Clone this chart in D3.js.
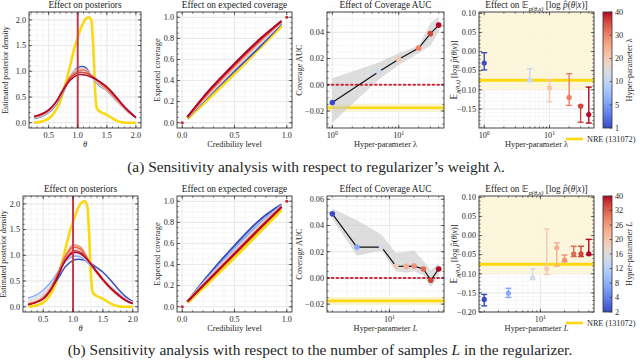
<!DOCTYPE html>
<html><head><meta charset="utf-8">
<script src="https://cdn.jsdelivr.net/npm/d3@7"></script>
<style>
body{margin:0;background:#fff}
svg{display:block}
text{font-family:"Liberation Serif","DejaVu Serif",serif;fill:#262626}
</style>
</head><body><svg id="c" width="640" height="361"></svg>
<script>
// ---------------- DATA ----------------
const lambdas = [1, 5, 10, 20, 30, 40];
const Ls = [2, 4, 8, 12, 16, 20, 26, 32, 40];
const lamCbTicks = [1, 5, 10, 20, 30, 40];
const LCbTicks = [2, 4, 8, 12, 16, 20, 26, 32, 40];

const thetaGrid = [0.25,0.375,0.5,0.625,0.75,0.875,1.0,1.125,1.25,1.375,1.5,1.625,1.75,1.875,2.0];
const postLam = [
  [0.08,0.12,0.20,0.35,0.60,0.90,1.07,1.08,0.88,0.72,0.62,0.48,0.33,0.20,0.10],
  [0.09,0.13,0.21,0.37,0.62,0.90,1.05,1.05,0.88,0.73,0.62,0.48,0.33,0.20,0.10],
  [0.10,0.14,0.22,0.38,0.63,0.90,1.03,1.03,0.90,0.75,0.63,0.49,0.34,0.21,0.10],
  [0.11,0.15,0.23,0.40,0.66,0.90,1.00,1.02,0.90,0.77,0.65,0.50,0.35,0.21,0.10],
  [0.12,0.16,0.24,0.40,0.65,0.87,0.97,0.97,0.90,0.80,0.68,0.53,0.37,0.22,0.10],
  [0.12,0.17,0.25,0.40,0.63,0.83,0.93,0.93,0.88,0.80,0.70,0.55,0.38,0.23,0.10]
];
const postL = [
  [0.05,0.10,0.20,0.35,0.55,0.78,0.90,0.92,0.88,0.78,0.67,0.52,0.35,0.20,0.10],
  [0.17,0.22,0.32,0.47,0.68,0.88,0.98,0.97,0.85,0.70,0.55,0.40,0.27,0.15,0.08],
  [0.12,0.17,0.26,0.42,0.65,0.90,1.02,1.02,0.88,0.72,0.56,0.40,0.26,0.15,0.08],
  [0.08,0.12,0.20,0.38,0.65,0.95,1.10,1.10,0.92,0.72,0.55,0.38,0.25,0.14,0.07],
  [0.06,0.10,0.18,0.36,0.66,1.00,1.18,1.15,0.93,0.70,0.52,0.36,0.23,0.13,0.07],
  [0.05,0.09,0.17,0.35,0.66,1.00,1.20,1.16,0.92,0.70,0.51,0.35,0.22,0.12,0.06],
  [0.05,0.09,0.17,0.35,0.65,0.98,1.15,1.12,0.92,0.70,0.52,0.36,0.23,0.13,0.06],
  [0.05,0.08,0.16,0.33,0.62,0.92,1.08,1.06,0.90,0.70,0.52,0.37,0.24,0.13,0.06],
  [0.04,0.08,0.15,0.32,0.60,0.90,1.05,1.03,0.90,0.72,0.53,0.37,0.24,0.13,0.06]
];
const nreTheta   = [0.25,0.4,0.5,0.6,0.7,0.8,0.9,0.95,1.0,1.05,1.1,1.15,1.2,1.24,1.27,1.3,1.33,1.38,1.45,1.55,1.65,1.75,1.85,2.0];
const nreDensity = [0.0,0.03,0.08,0.2,0.42,0.8,1.25,1.48,1.65,1.82,1.95,2.03,2.05,1.95,1.4,0.6,0.28,0.22,0.18,0.12,0.05,0.01,0.0,0.0];
const trueTheta = 1.0;

const credLevels = [0.05, 0.25, 0.5, 0.75, 0.95];
const covNRE = [0.04, 0.23, 0.47, 0.72, 0.92];
const covLam = [
  [0.045,0.25,0.49,0.73,0.94],
  [0.05,0.26,0.51,0.75,0.95],
  [0.05,0.27,0.52,0.77,0.955],
  [0.05,0.28,0.54,0.78,0.96],
  [0.055,0.29,0.55,0.79,0.965],
  [0.055,0.30,0.56,0.80,0.965]
];
const covL = [
  [0.05,0.30,0.58,0.83,0.97],
  [0.05,0.28,0.55,0.80,0.96],
  [0.05,0.27,0.53,0.78,0.955],
  [0.05,0.26,0.52,0.77,0.95],
  [0.05,0.26,0.51,0.76,0.95],
  [0.05,0.255,0.51,0.76,0.95],
  [0.05,0.255,0.505,0.755,0.948],
  [0.048,0.25,0.50,0.75,0.945],
  [0.048,0.25,0.50,0.75,0.945]
];
const covEnds = [[0, 0], [1, 1]];

const aucLam   = [-0.0135, 0.0100, 0.0195, 0.0280, 0.0390, 0.0455];
const aucLamLo = [-0.029, 0.004, 0.015, 0.024, 0.030, 0.040];
const aucLamHi = [0.005, 0.017, 0.024, 0.030, 0.047, 0.052];
const aucL   = [0.0489, 0.0235, 0.0235, 0.0090, 0.0088, 0.0090, 0.0068, -0.0018, 0.0068];
const aucLLo = [0.045, 0.017, 0.021, 0.005, 0.004, 0.005, 0.002, -0.007, 0.002];
const aucLHi = [0.053, 0.044, 0.033, 0.019, 0.020, 0.021, 0.013, 0.006, 0.011];
const aucNRE = -0.0175, aucNREStd = 0.003;

const llLam   = [-0.030, -0.074, -0.095, -0.120, -0.143, -0.165];
const llLamLo = [-0.048, -0.078, -0.131, -0.141, -0.185, -0.187];
const llLamHi = [-0.003, -0.045, -0.074, -0.058, -0.141, -0.093];
const llL   = [-0.167, -0.151, -0.110, -0.087, -0.032, -0.064, -0.048, -0.048, -0.048];
const llLLo = [-0.184, -0.162, -0.115, -0.102, -0.080, -0.068, -0.055, -0.055, -0.050];
const llLHi = [-0.154, -0.138, -0.087, 0.017, -0.019, -0.051, -0.028, -0.028, -0.010];
const llNRE = -0.075, llNREBand = [-0.1, 0.2];

// ---------------- STYLE ----------------
const cwStops = [[59,76,192],[77,104,215],[98,130,234],[119,154,247],[141,176,254],[163,194,255],[184,208,249],[204,217,238],[221,221,221],[236,211,197],[245,196,173],[247,177,148],[244,154,123],[236,127,99],[222,96,77],[203,62,56],[180,4,38]];
const coolwarm = d3.scaleLinear().domain(cwStops.map((c,i)=>i/(cwStops.length-1))).range(cwStops.map(c=>d3.rgb(c[0],c[1],c[2]).toString())).interpolate(d3.interpolateRgb).clamp(true);
const YEL = "#fad814", TRUE_RED = "#c73a4c", DOT_RED = "#d0263a";
const colLam = v => coolwarm(Math.log(v/1)/Math.log(40/1));
const colL = v => coolwarm(Math.log(v/2)/Math.log(40/2));

const svg = d3.select("#c");
let clipId = 0;

function seq(a, b, s){ const r=[]; for(let v=a; v<=b+1e-9; v+=s) r.push(+v.toFixed(6)); return r; }
function logMinor(lo, hi){ const r=[]; for(let e=-1;e<=2;e++) for(let m=1;m<10;m++){ const v=m*Math.pow(10,e); if(v>=lo&&v<=hi) r.push(v);} return r; }

function panel(x, y, o){
  const g = svg.append("g");
  const [x0,x1] = x.range(), [y1,y0] = y.range();
  const grid = g.append("g");
  (o.xMinor||[]).forEach(v=>grid.append("line").attr("x1",x(v)).attr("x2",x(v)).attr("y1",y0).attr("y2",y1).attr("stroke","#f1f1f1").attr("stroke-width",0.6));
  (o.yMinor||[]).forEach(v=>grid.append("line").attr("y1",y(v)).attr("y2",y(v)).attr("x1",x0).attr("x2",x1).attr("stroke","#f1f1f1").attr("stroke-width",0.6));
  o.xMajor.forEach(v=>grid.append("line").attr("x1",x(v)).attr("x2",x(v)).attr("y1",y0).attr("y2",y1).attr("stroke","#e2e2e2").attr("stroke-width",0.7));
  o.yMajor.forEach(v=>grid.append("line").attr("y1",y(v)).attr("y2",y(v)).attr("x1",x0).attr("x2",x1).attr("stroke","#e2e2e2").attr("stroke-width",0.7));
  const id = "cp"+(clipId++);
  g.append("clipPath").attr("id",id).append("rect").attr("x",x0).attr("y",y0).attr("width",x1-x0).attr("height",y1-y0);
  const data = g.append("g").attr("clip-path",`url(#${id})`);
  const top = g.append("g");
  return {g, data, top, finish(){
    const t = top;
    const tk = (x1_,y1_,x2_,y2_,w)=>t.append("line").attr("x1",x1_).attr("y1",y1_).attr("x2",x2_).attr("y2",y2_).attr("stroke","#333").attr("stroke-width",w||0.7);
    (o.xMinor||[]).forEach(v=>{ if(x(v)>x0&&x(v)<x1){ tk(x(v),y1,x(v),y1-1.6); tk(x(v),y0,x(v),y0+1.6);} });
    (o.yMinor||[]).forEach(v=>{ if(y(v)>y0&&y(v)<y1){ tk(x0,y(v),x0+1.6,y(v)); tk(x1,y(v),x1-1.6,y(v));} });
    o.xMajor.forEach(v=>{ tk(x(v),y1,x(v),y1-3.2); tk(x(v),y0,x(v),y0+3.2); });
    o.yMajor.forEach(v=>{ tk(x0,y(v),x0+3.2,y(v)); tk(x1,y(v),x1-3.2,y(v)); });
    t.append("rect").attr("x",x0).attr("y",y0).attr("width",x1-x0).attr("height",y1-y0).attr("fill","none").attr("stroke","#333").attr("stroke-width",0.9);
    o.xMajor.forEach(v=>{
      const tx = t.append("text").attr("x",x(v)).attr("y",y1+10).attr("text-anchor","middle").attr("font-size",8.2);
      if(o.xLog){ tx.text("10"); tx.append("tspan").attr("dy",-3.5).attr("font-size",5.8).text(Math.round(Math.log10(v))); }
      else tx.text(o.xFmt(v));
    });
    o.yMajor.forEach(v=>{
      t.append("text").attr("x",x0-3).attr("y",y(v)+2.8).attr("text-anchor","end").attr("font-size",8.2).text(o.yFmt(v));
    });
    const ti = t.append("text").attr("x",(x0+x1)/2).attr("y",y0-4).attr("text-anchor","middle").attr("font-size",9.3);
    o.title(ti);
    const xl = t.append("text").attr("x",(x0+x1)/2).attr("y",y1+19).attr("text-anchor","middle").attr("font-size",8.4);
    o.xlabel(xl);
    const yl = t.append("text").attr("transform",`translate(${o.ylx},${(y0+y1)/2}) rotate(-90)`).attr("text-anchor","middle").attr("font-size",o.ylSize||8.4);
    o.ylabel(yl);
  }};
}

const f1 = d3.format(".1f"), f2 = d3.format(".2f");
const fm = v => (v<0?"\u2212":"") + f2(Math.abs(v));
const plain = s => t => t.text(s);

function expLabel(t, sizeMain){
  t.append("tspan").attr("font-family","DejaVu Sans, sans-serif").text("\u{1D53C}");
  t.append("tspan").attr("dy",2.5).attr("font-size",sizeMain*0.68).attr("font-style","italic").text("p(\u03B8,x)");
  t.append("tspan").attr("dy",-2.5).text(" [log ");
  t.append("tspan").attr("font-style","italic").text("p\u0302");
  t.append("tspan").text("(");
  t.append("tspan").attr("font-style","italic").text("\u03B8");
  t.append("tspan").text("|");
  t.append("tspan").attr("font-style","italic").text("x");
  t.append("tspan").text(")]");
}

function drawRow(R){
  const {y0,y1,p1x,vals,colF,post,cov,auc,aucLo,aucHi,ll,llLo,llHi,param,cbTicks,xLogDom} = R;
  const colors = vals.map(colF);
  // ---- Panel 1: posteriors
  {
    const x = d3.scaleLinear().domain([0.1625,2.0875]).range(p1x);
    const y = d3.scaleLinear().domain([-0.1025,2.1525]).range([y1,y0]);
    const P = panel(x,y,{xMajor:[0.5,1,1.5,2],xMinor:seq(0.2,2.0,0.1),yMajor:[0,0.5,1,1.5,2],yMinor:seq(0,2.1,0.1),
      xFmt:f1,yFmt:f1,title:plain("Effect on posteriors"),
      xlabel:t=>t.attr("font-style","italic").text("\u03B8"),
      ylabel:plain("Estimated posterior density"), ylx:R.p1ylx, ylSize:8});
    const line = d3.line().x((d,i)=>x(thetaGrid[i])).y(d=>y(d)).curve(d3.curveCatmullRom.alpha(0.5));
    P.data.append("path").attr("d",d3.line().x((d,i)=>x(nreTheta[i])).y(d=>y(d)).curve(d3.curveMonotoneX)(nreDensity))
      .attr("fill","none").attr("stroke",YEL).attr("stroke-width",2.6);
    post.forEach((arr,k)=>P.data.append("path").attr("d",line(arr)).attr("fill","none").attr("stroke",colors[k]).attr("stroke-width",1.5));
    P.data.append("line").attr("x1",x(trueTheta)).attr("x2",x(trueTheta)).attr("y1",y0).attr("y2",y1).attr("stroke",TRUE_RED).attr("stroke-width",2);
    P.finish();
  }
  // ---- Panel 2: coverage
  {
    const x = d3.scaleLinear().domain([-0.05,1.05]).range([177,292]);
    const y = d3.scaleLinear().domain([-0.05,1.05]).range([y1,y0]);
    const P = panel(x,y,{xMajor:[0,0.5,1],xMinor:seq(0,1,0.1),yMajor:[0,0.2,0.4,0.6,0.8,1],yMinor:seq(0,1,0.05),
      xFmt:f1,yFmt:f1,title:plain("Effect on expected coverage"),xlabel:plain("Credibility level"),ylabel:plain("Expected coverage"),ylx:160});
    const line = d3.line().x((d,i)=>x(credLevels[i])).y(d=>y(d)).curve(d3.curveCatmullRom.alpha(0.5));
    P.data.append("path").attr("d",line(covNRE)).attr("fill","none").attr("stroke",YEL).attr("stroke-width",3.6);
    cov.forEach((arr,k)=>P.data.append("path").attr("d",line(arr)).attr("fill","none").attr("stroke",colors[k]).attr("stroke-width",2));
    covEnds.forEach(d=>P.data.append("circle").attr("cx",x(d[0])).attr("cy",y(d[1])).attr("r",1.6).attr("fill",DOT_RED));
    P.finish();
  }
  // ---- Panel 3: coverage AUC
  {
    const x = d3.scaleLog().domain(xLogDom).range([327,444]);
    const y = d3.scaleLinear().domain(R.aucDom).range([y1,y0]);
    const P = panel(x,y,{xMajor:[1,10].filter(v=>v>=xLogDom[0]),xMinor:logMinor(xLogDom[0],xLogDom[1]),xLog:true,yMajor:R.aucTicks,yMinor:seq(-0.03,0.065,0.005),
      yFmt:fm,title:plain("Effect of Coverage AUC"),
      xlabel:t=>{t.text("Hyper-parameter "); t.append("tspan").attr("font-style",param==="L"?"italic":"normal").text(param);},
      ylabel:plain("Coverage AUC"),ylx:302});
    P.data.append("rect").attr("x",327).attr("width",117).attr("y",y(aucNRE+aucNREStd)).attr("height",y(aucNRE-aucNREStd)-y(aucNRE+aucNREStd)).attr("fill","#fcf3c9").attr("opacity",0.9);
    P.data.append("line").attr("x1",327).attr("x2",444).attr("y1",y(aucNRE)).attr("y2",y(aucNRE)).attr("stroke",YEL).attr("stroke-width",2.6);
    const area = d3.area().x((d,i)=>x(vals[i])).y0((d,i)=>y(aucLo[i])).y1((d,i)=>y(aucHi[i]));
    P.data.append("path").attr("d",area(auc)).attr("fill","#c8c8c8").attr("opacity",0.6);
    P.data.append("line").attr("x1",327).attr("x2",444).attr("y1",y(0)).attr("y2",y(0)).attr("stroke",DOT_RED).attr("stroke-width",2).attr("stroke-dasharray","1.6,3.2").attr("stroke-linecap","round");
    P.data.append("path").attr("d",d3.line().x((d,i)=>x(vals[i])).y(d=>y(d))(auc)).attr("fill","none").attr("stroke","#111").attr("stroke-width",1.2);
    auc.forEach((v,i)=>P.data.append("circle").attr("cx",x(vals[i])).attr("cy",y(v)).attr("r",2.8).attr("fill",colors[i]));
    P.finish();
  }
  // ---- Panel 4: log-likelihood
  {
    const x = d3.scaleLog().domain(xLogDom).range([479,594]);
    const y = d3.scaleLinear().domain([-0.2,0.1035]).range([y1,y0]);
    const P = panel(x,y,{xMajor:[1,10].filter(v=>v>=xLogDom[0]),xMinor:logMinor(xLogDom[0],xLogDom[1]),xLog:true,
      yMajor:R.llTicks,yMinor:seq(-0.2,0.1,0.01),
      yFmt:fm,title:t=>{t.text("Effect on "); expLabel(t,9.3);},
      xlabel:t=>{t.text("Hyper-parameter "); t.append("tspan").attr("font-style",param==="L"?"italic":"normal").text(param);},
      ylabel:t=>expLabel(t,8.4),ylx:457});
    P.data.append("rect").attr("x",479).attr("width",115).attr("y",y(llNREBand[1])).attr("height",y(llNREBand[0])-y(llNREBand[1])).attr("fill","#fcf5d6").attr("opacity",0.85);
    P.data.append("line").attr("x1",479).attr("x2",594).attr("y1",y(llNRE)).attr("y2",y(llNRE)).attr("stroke",YEL).attr("stroke-width",3);
    ll.forEach((v,i)=>{
      const cx = x(vals[i]), c = colors[i];
      P.data.append("line").attr("x1",cx).attr("x2",cx).attr("y1",y(llLo[i])).attr("y2",y(llHi[i])).attr("stroke",c).attr("stroke-width",1.4);
      [llLo[i],llHi[i]].forEach(e=>P.data.append("line").attr("x1",cx-3).attr("x2",cx+3).attr("y1",y(e)).attr("y2",y(e)).attr("stroke",c).attr("stroke-width",1.4));
      P.data.append("circle").attr("cx",cx).attr("cy",y(v)).attr("r",2.6).attr("fill",c);
    });
    P.finish();
    const ly = y1 + 11;
    svg.append("line").attr("x1",566).attr("x2",583).attr("y1",ly).attr("y2",ly).attr("stroke",YEL).attr("stroke-width",2.6);
    svg.append("text").attr("x",587).attr("y",ly+3).attr("font-size",8.2).text("NRE (131072)");
  }
  // ---- colorbar (evenly spaced boundary ticks)
  {
    const cx0 = 603, cx1 = 612;
    const gid = "grad"+(param==="L"?"L":"lam");
    const grad = svg.append("defs").append("linearGradient").attr("id",gid).attr("x1",0).attr("x2",0).attr("y1",1).attr("y2",0);
    d3.range(0,1.0001,0.0625).forEach(t=>grad.append("stop").attr("offset",t).attr("stop-color",coolwarm(t)));
    svg.append("rect").attr("x",cx0).attr("y",y0).attr("width",cx1-cx0).attr("height",y1-y0).attr("fill",`url(#${gid})`);
    svg.append("rect").attr("x",cx0).attr("y",y0).attr("width",cx1-cx0).attr("height",y1-y0).attr("fill","none").attr("stroke","#333").attr("stroke-width",0.8);
    const cs = d3.scalePoint().domain(cbTicks).range([y1,y0]);
    cbTicks.forEach(v=>{
      svg.append("line").attr("x1",cx1).attr("x2",cx1-2.5).attr("y1",cs(v)).attr("y2",cs(v)).attr("stroke","#333").attr("stroke-width",0.7);
      svg.append("text").attr("x",cx1+3).attr("y",cs(v)+2.8).attr("font-size",8.2).text(v);
    });
    const lab = svg.append("text").attr("transform",`translate(632,${(y0+y1)/2}) rotate(-90)`).attr("text-anchor","middle").attr("font-size",8.4).text("Hyper-parameter ");
    lab.append("tspan").attr("font-style",param==="L"?"italic":"normal").text(param);
  }
}

drawRow({y0:12,y1:128,p1x:[29,141],p1ylx:8,vals:lambdas,colF:colLam,post:postLam,cov:covLam,auc:aucLam,aucLo:aucLamLo,aucHi:aucLamHi,
  ll:llLam,llLo:llLamLo,llHi:llLamHi,param:"\u03BB",cbTicks:lamCbTicks,xLogDom:[Math.pow(10,-0.08),Math.pow(10,1.682)],
  aucDom:[-0.033,0.0555],aucTicks:[-0.02,0,0.02,0.04],llTicks:[-0.15,-0.1,-0.05,0,0.05,0.1]});
drawRow({y0:196,y1:312,p1x:[23,138],p1ylx:6,vals:Ls,colF:colL,post:postL,cov:covL,auc:aucL,aucLo:aucLLo,aucHi:aucLHi,
  ll:llL,llLo:llLLo,llHi:llLHi,param:"L",cbTicks:LCbTicks,xLogDom:[Math.pow(10,0.236),Math.pow(10,1.667)],
  aucDom:[-0.026,0.0625],aucTicks:[-0.02,0,0.02,0.04,0.06],llTicks:[-0.2,-0.15,-0.1,-0.05,0,0.05,0.1]});

// captions
const capA = svg.append("text").attr("x",316).attr("y",172).attr("text-anchor","middle").attr("font-size",14).text("(a) Sensitivity analysis with respect to regularizer\u2019s weight \u03BB.");
const capB = svg.append("text").attr("x",320).attr("y",355).attr("text-anchor","middle").attr("font-size",14).text("(b) Sensitivity analysis with respect to the number of samples ");
capB.append("tspan").attr("font-style","italic").text("L");
capB.append("tspan").text(" in the regularizer.");
const wB = capB.node().getComputedTextLength();
const fs = 14 * 505 / wB;
capA.attr("font-size", fs); capB.attr("font-size", fs);
</script>
</body></html>
